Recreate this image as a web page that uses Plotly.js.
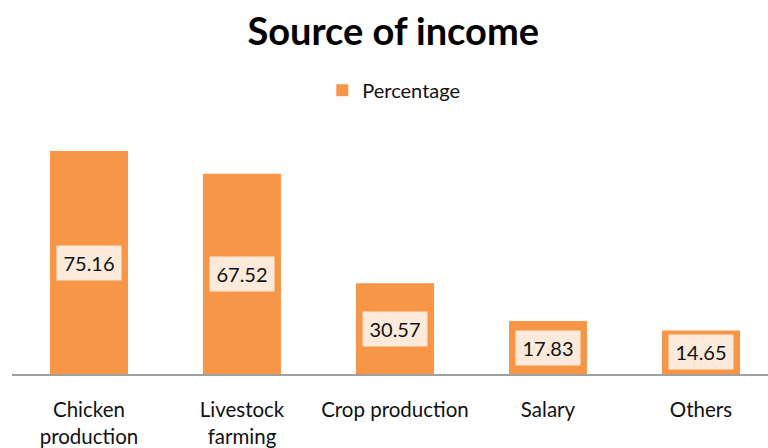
<!DOCTYPE html>
<html>
<head>
<meta charset="utf-8">
<script src="https://cdn.plot.ly/plotly-3.0.1.min.js"></script>
<style>html,body{margin:0;padding:0;background:#fff;}#chart{width:768px;height:448px;}</style>
</head>
<body>
<div id="chart"></div>
<script>
const categories = ["Chicken<br>production", "Livestock<br>farming", "Crop production", "Salary", "Others"];
const percentage = [75.16, 67.52, 30.57, 17.83, 14.65];
const seriesName = "Percentage";

const FONT = "Lato, 'Open Sans', sans-serif";

const trace = {
  type: "bar",
  x: categories,
  y: percentage,
  name: seriesName,
  marker: {color: "#F79646"},
  width: 0.51,
  showlegend: true,
  hoverinfo: "skip"
};

const annotations = categories.map((c, i) => ({
  x: c,
  y: percentage[i] / 2,
  xref: "x",
  yref: "y",
  text: percentage[i].toFixed(2),
  showarrow: false,
  bgcolor: "#FDEADA",
  borderpad: 4,
  width: 56,
  height: 26,
  font: {family: FONT, size: 20, color: "#111111"}
}));

const layout = {
  width: 768,
  height: 448,
  margin: {l: 12, r: 0, t: 110, b: 74},
  paper_bgcolor: "#ffffff",
  plot_bgcolor: "#ffffff",
  title: {
    text: "<b>Source of income</b>",
    font: {family: FONT, size: 38, color: "#000000"},
    x: 0.512, xanchor: "center",
    y: 0.93, yanchor: "middle"
  },
  showlegend: true,
  legend: {
    orientation: "h",
    x: 0.505, xanchor: "center",
    y: 1.075, yanchor: "middle",
    yref: "paper",
    font: {family: FONT, size: 20, color: "#111111"},
    itemwidth: 30
  },
  xaxis: {
    type: "category",
    range: [-0.503, 4.438],
    showline: true,
    linecolor: "#a0a0a0",
    linewidth: 1.5,
    showgrid: false,
    zeroline: false,
    ticks: "",
    ticklabelstandoff: 17,
    tickfont: {family: FONT, size: 20.5, color: "#111111"}
  },
  yaxis: {
    range: [0, 88.98],
    visible: false,
    showgrid: false,
    zeroline: false
  },
  annotations: annotations
};

Plotly.newPlot("chart", [trace], layout, {displayModeBar: false, staticPlot: true});
</script>
</body>
</html>
